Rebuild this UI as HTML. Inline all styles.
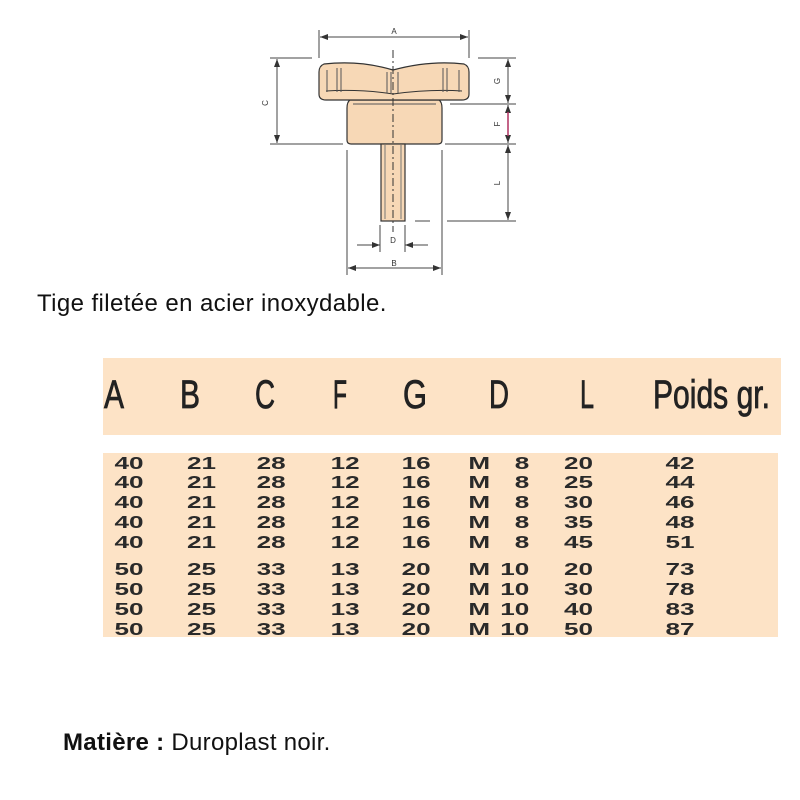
<!DOCTYPE html>
<html><head><meta charset="utf-8"><style>
html,body{margin:0;padding:0;background:#fff;}
body{width:800px;height:800px;position:relative;overflow:hidden;font-family:"Liberation Sans",sans-serif;}
.t{position:absolute;white-space:nowrap;color:#111;}
</style></head><body>
<svg width="800" height="800" style="position:absolute;left:0;top:0" xmlns="http://www.w3.org/2000/svg">
<defs>
<marker id="ar" markerWidth="8" markerHeight="6" refX="8" refY="3" orient="auto-start-reverse" markerUnits="userSpaceOnUse"><path d="M0,0 L8,3 L0,6 z" fill="#333"/></marker>
</defs>
<g stroke="#444" stroke-width="1" fill="none">
<line x1="319" y1="30" x2="319" y2="58"/><line x1="469" y1="30" x2="469" y2="58"/>
<line x1="270" y1="58" x2="312" y2="58"/><line x1="270" y1="144" x2="343" y2="144"/>
<line x1="478" y1="58" x2="516" y2="58"/><line x1="450" y1="104" x2="516" y2="104"/>
<line x1="445" y1="144" x2="516" y2="144"/><line x1="415" y1="221" x2="430" y2="221"/><line x1="447" y1="221" x2="516" y2="221"/>
<line x1="347" y1="150" x2="347" y2="275"/><line x1="442" y1="150" x2="442" y2="275"/>
<line x1="380" y1="225" x2="380" y2="252"/><line x1="405" y1="225" x2="405" y2="252"/>
<line x1="320" y1="37" x2="468" y2="37" marker-start="url(#ar)" marker-end="url(#ar)"/>
<line x1="277" y1="59" x2="277" y2="143" marker-start="url(#ar)" marker-end="url(#ar)"/>
<line x1="508" y1="59" x2="508" y2="103" marker-start="url(#ar)" marker-end="url(#ar)"/>
<line x1="508" y1="105" x2="508" y2="143" marker-start="url(#ar)" marker-end="url(#ar)"/>
<line x1="508" y1="145" x2="508" y2="220" marker-start="url(#ar)" marker-end="url(#ar)"/>
<line x1="357" y1="245" x2="380" y2="245" marker-end="url(#ar)"/><line x1="428" y1="245" x2="405" y2="245" marker-end="url(#ar)"/>
<line x1="348" y1="268" x2="441" y2="268" marker-start="url(#ar)" marker-end="url(#ar)"/>
</g>
<line x1="508" y1="112" x2="508" y2="136" stroke="#b03060" stroke-width="1.5"/>
<path d="M350,100 Q347,102 347,108 L347,140 Q347,144 351,144 L438,144 Q442,144 442,140 L442,108 Q442,102 439,100 Z" fill="#f7d8b6" stroke="#333" stroke-width="1.2"/>
<path d="M324,64 Q360,60 393,70 Q430,60 464,64 Q469,66 469,72 L469,94 Q469,100 462,100 L326,100 Q319,100 319,94 L319,72 Q319,66 324,64 Z" fill="#f7d8b6" stroke="#333" stroke-width="1.2"/>
<path d="M326,91 Q360,89 393,94 Q430,89 462,91" fill="none" stroke="#333" stroke-width="1"/>
<g stroke="#555" stroke-width="1">
<line x1="327" y1="70" x2="327" y2="92"/><line x1="337" y1="68" x2="337" y2="92"/><line x1="341" y1="68" x2="341" y2="92"/>
<line x1="387" y1="72" x2="387" y2="93"/><line x1="391" y1="72" x2="391" y2="93"/><line x1="398" y1="72" x2="398" y2="93"/>
<line x1="443" y1="68" x2="443" y2="92"/><line x1="447" y1="68" x2="447" y2="92"/><line x1="459" y1="70" x2="459" y2="92"/>
<line x1="353" y1="104" x2="436" y2="104"/>
</g>
<rect x="381" y="144" width="24" height="77" fill="#f7d8b6" stroke="#333" stroke-width="1.2"/>
<line x1="385" y1="145" x2="385" y2="219" stroke="#777"/><line x1="401" y1="145" x2="401" y2="219" stroke="#777"/>
<line x1="393" y1="50" x2="393" y2="232" stroke="#333" stroke-width="1" stroke-dasharray="8,3,2,3"/>
<g font-family="Liberation Sans, sans-serif" font-size="8" fill="#333" text-anchor="middle">
<text x="394" y="34">A</text><text x="393" y="243">D</text><text x="394" y="266">B</text>
<text transform="translate(268,103) rotate(-90)">C</text>
<text transform="translate(500,81) rotate(-90)">G</text>
<text transform="translate(500,124) rotate(-90)">F</text>
<text transform="translate(500,183) rotate(-90)">L</text>
</g>
<rect x="103" y="358" width="678" height="77" fill="#fde3c6"/>
<rect x="103" y="453" width="675" height="184" fill="#fde3c6"/>
<g font-family="Liberation Sans, sans-serif" font-size="40" fill="#222" stroke="#222" stroke-width="0.8">
<text x="104" y="408" textLength="20" lengthAdjust="spacingAndGlyphs">A</text>
<text x="180" y="408" textLength="20" lengthAdjust="spacingAndGlyphs">B</text>
<text x="255" y="408" textLength="20" lengthAdjust="spacingAndGlyphs">C</text>
<text x="333" y="408" textLength="14" lengthAdjust="spacingAndGlyphs">F</text>
<text x="403" y="408" textLength="24" lengthAdjust="spacingAndGlyphs">G</text>
<text x="489" y="408" textLength="20" lengthAdjust="spacingAndGlyphs">D</text>
<text x="580" y="408" textLength="14" lengthAdjust="spacingAndGlyphs">L</text>
<text x="653" y="408" textLength="117" lengthAdjust="spacingAndGlyphs">Poids gr.</text>
</g>
<g transform="scale(1.45,1)" font-family="Liberation Sans, sans-serif" font-size="18" font-weight="bold" fill="#2a2a2a">
<text y="469"><tspan x="79">40</tspan><tspan x="129">21</tspan><tspan x="177">28</tspan><tspan x="228">12</tspan><tspan x="277">16</tspan><tspan x="323">M</tspan><tspan x="355">8</tspan><tspan x="389">20</tspan><tspan x="459">42</tspan></text>
<text y="488"><tspan x="79">40</tspan><tspan x="129">21</tspan><tspan x="177">28</tspan><tspan x="228">12</tspan><tspan x="277">16</tspan><tspan x="323">M</tspan><tspan x="355">8</tspan><tspan x="389">25</tspan><tspan x="459">44</tspan></text>
<text y="508"><tspan x="79">40</tspan><tspan x="129">21</tspan><tspan x="177">28</tspan><tspan x="228">12</tspan><tspan x="277">16</tspan><tspan x="323">M</tspan><tspan x="355">8</tspan><tspan x="389">30</tspan><tspan x="459">46</tspan></text>
<text y="528"><tspan x="79">40</tspan><tspan x="129">21</tspan><tspan x="177">28</tspan><tspan x="228">12</tspan><tspan x="277">16</tspan><tspan x="323">M</tspan><tspan x="355">8</tspan><tspan x="389">35</tspan><tspan x="459">48</tspan></text>
<text y="548"><tspan x="79">40</tspan><tspan x="129">21</tspan><tspan x="177">28</tspan><tspan x="228">12</tspan><tspan x="277">16</tspan><tspan x="323">M</tspan><tspan x="355">8</tspan><tspan x="389">45</tspan><tspan x="459">51</tspan></text>
<text y="575"><tspan x="79">50</tspan><tspan x="129">25</tspan><tspan x="177">33</tspan><tspan x="228">13</tspan><tspan x="277">20</tspan><tspan x="323">M</tspan><tspan x="345">10</tspan><tspan x="389">20</tspan><tspan x="459">73</tspan></text>
<text y="595"><tspan x="79">50</tspan><tspan x="129">25</tspan><tspan x="177">33</tspan><tspan x="228">13</tspan><tspan x="277">20</tspan><tspan x="323">M</tspan><tspan x="345">10</tspan><tspan x="389">30</tspan><tspan x="459">78</tspan></text>
<text y="615"><tspan x="79">50</tspan><tspan x="129">25</tspan><tspan x="177">33</tspan><tspan x="228">13</tspan><tspan x="277">20</tspan><tspan x="323">M</tspan><tspan x="345">10</tspan><tspan x="389">40</tspan><tspan x="459">83</tspan></text>
<text y="635"><tspan x="79">50</tspan><tspan x="129">25</tspan><tspan x="177">33</tspan><tspan x="228">13</tspan><tspan x="277">20</tspan><tspan x="323">M</tspan><tspan x="345">10</tspan><tspan x="389">50</tspan><tspan x="459">87</tspan></text>
</g>
</svg>
<div class="t" style="left:37px;top:290px;font-size:24px;letter-spacing:0.4px;">Tige filetée en acier inoxydable.</div>
<div class="t" style="left:63px;top:729px;font-size:24px;letter-spacing:0.3px;"><b>Matière :</b> Duroplast noir.</div>
</body></html>
